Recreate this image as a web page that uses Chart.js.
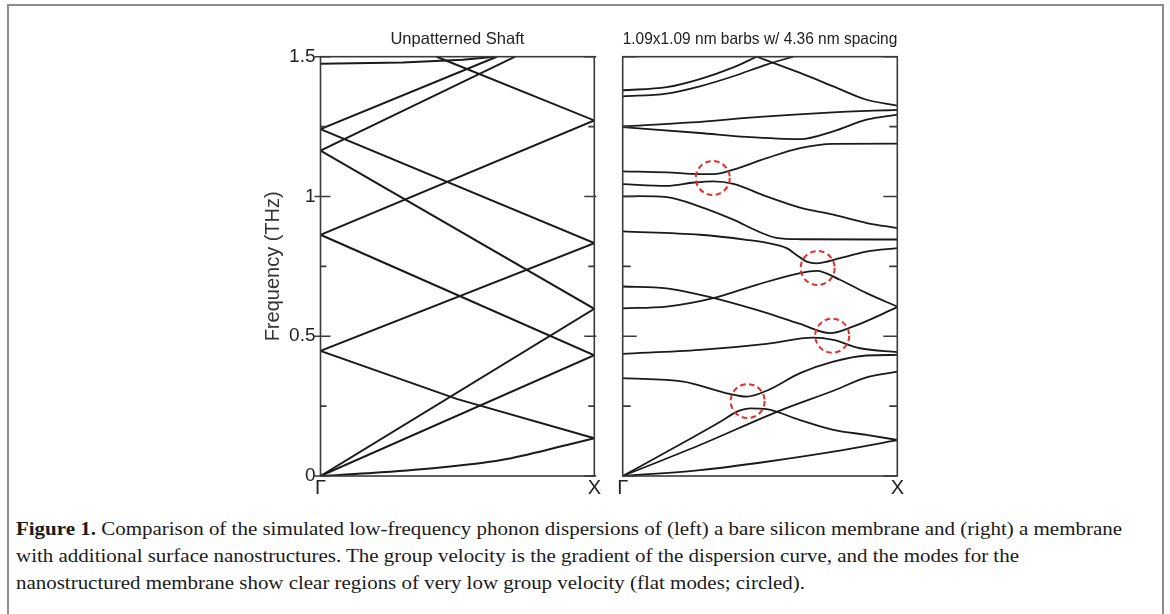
<!DOCTYPE html>
<html><head><meta charset="utf-8">
<script src="https://cdn.jsdelivr.net/npm/chart.js@4.4.1/dist/chart.umd.min.js"></script>
<style>
html,body{margin:0;padding:0;background:#fff;width:1170px;height:614px;overflow:hidden;}
#frame{position:absolute;left:7px;top:4px;width:1157px;height:700px;border:2px solid #8c8c8c;box-sizing:border-box;}
canvas{position:absolute;}
#cl{left:250px;top:20px;}
#cr{left:600px;top:20px;}
.cap{position:absolute;left:16px;white-space:nowrap;font-family:"Liberation Serif","Times New Roman",serif;font-size:19.5px;color:#1a1a1a;transform-origin:0 50%;line-height:24px;}
</style></head><body>
<div id="frame"></div>
<canvas id="cl" width="360" height="492"></canvas>
<canvas id="cr" width="320" height="492"></canvas>
<div class="cap" id="cap1" style="top:517px"><b>Figure 1.</b> Comparison of the simulated low-frequency phonon dispersions of (left) a bare silicon membrane and (right) a membrane</div>
<div class="cap" id="cap2" style="top:544px">with additional surface nanostructures. The group velocity is the gradient of the dispersion curve, and the modes for the</div>
<div class="cap" id="cap3" style="top:571px">nanostructured membrane show clear regions of very low group velocity (flat modes; circled).</div>
<script>
// ---------- DATA ----------
const leftTitle = 'Unpatterned Shaft';
const rightTitle = '1.09x1.09 nm barbs w/ 4.36 nm spacing';
const yAxisTitle = 'Frequency (THz)';
const xTickPos = [0, 1];
const xTickLabels = ['\u0393', 'X'];
const yTickValues = [0, 0.5, 1, 1.5];
const yTickLabels = ['0', '0.5', '1', '1.5'];
const yMinorTicks = [0.25, 0.75, 1.25];

// Left panel: unpatterned shaft bands, [k (Γ=0 .. X=1), frequency THz]
const leftFlexural = [[0,0],[0.17,0.0095],[0.41,0.0275],[0.66,0.057],[0.9,0.111],[1,0.135]];
const leftBandA = [[0,0],[1,0.432],[0,0.863],[1,1.272],[0.424,1.5]];
const leftBandB = [[0,0],[1,0.598],[0,1.164],[0.711,1.5]];
const leftBandC = [[1,0.135],[0.5,0.275],[0,0.4475],[1,0.833],[0,1.241],[0.644,1.5]];
const leftBandTop = [[0,1.475],[0.3,1.479],[0.52,1.489],[0.637,1.5]];

// Right panel: nanostructured membrane bands
const rBandA = [[0,1.380],[0.16,1.391],[0.281,1.420],[0.403,1.462],[0.488,1.5]];
const rBandB = [[0,1.358],[0.16,1.368],[0.281,1.394],[0.403,1.43],[0.524,1.472],[0.621,1.5]];
const rBandC = [[0.488,1.5],[0.646,1.442],[0.767,1.394],[0.888,1.346],[1,1.325]];
const rBandD = [[0,1.251],[0.25,1.265],[0.5,1.285],[0.75,1.300],[1,1.310]];
const rBandE = [[0,1.248],[0.281,1.227],[0.45,1.213],[0.646,1.205],[0.767,1.233],[0.888,1.275],[1,1.293]];
const rBandG = [[0,1.090],[0.16,1.086],[0.281,1.080],[0.33,1.080],[0.403,1.096],[0.524,1.137],[0.646,1.173],[0.767,1.188],[1,1.189]];
const rBandH = [[0,1.044],[0.16,1.038],[0.26,1.050],[0.33,1.054],[0.403,1.045],[0.524,1.000],[0.646,0.960],[0.767,0.935],[0.889,0.905],[1,0.887]];
const rBandI = [[0,1.000],[0.06,1.001],[0.16,0.998],[0.281,0.964],[0.403,0.917],[0.5,0.872],[0.56,0.852],[0.646,0.847],[1,0.846]];
const rBandJ = [[0,0.875],[0.281,0.863],[0.45,0.845],[0.53,0.833],[0.597,0.815],[0.633,0.791],[0.67,0.767],[0.706,0.761],[0.791,0.779],[0.888,0.803],[1,0.815]];
const rBandL = [[0,0.600],[0.16,0.606],[0.33,0.636],[0.488,0.684],[0.646,0.726],[0.706,0.734],[0.791,0.702],[0.888,0.654],[1,0.606]];
const rBandM = [[0,0.678],[0.16,0.671],[0.318,0.640],[0.488,0.594],[0.646,0.544],[0.755,0.511],[0.84,0.535],[1,0.604]];
const rBandN = [[0,0.437],[0.281,0.451],[0.524,0.473],[0.694,0.495],[0.767,0.487],[0.864,0.457],[1,0.443]];
const rBandO = [[0,0.350],[0.221,0.338],[0.379,0.296],[0.452,0.284],[0.524,0.305],[0.646,0.368],[0.767,0.409],[0.888,0.431],[1,0.433]];
const rBandP = [[0,0],[0.2,0.108],[0.36,0.197],[0.42,0.232],[0.464,0.242],[0.524,0.239],[0.646,0.200],[0.767,0.165],[0.888,0.147],[1,0.129]];
const rBandQ = [[0,0],[0.281,0.111],[0.573,0.234],[0.767,0.305],[0.888,0.353],[1,0.373]];
const rBandR = [[0,0],[0.281,0.021],[0.524,0.051],[0.767,0.087],[1,0.128]];

// Circled flat-mode regions (k, frequency)
const circleK = [0.328, 0.710, 0.763, 0.455];
const circleF = [1.066, 0.744, 0.502, 0.268];

// ---------- CHART ----------
const SANS = '"Liberation Sans", Arial, Helvetica, sans-serif';
const LINE = '#1a1a1a';
const toPts = arr => arr.map(p => ({x: p[0], y: p[1]}));

const framePlugin = {
  id: 'frameTicks',
  afterDatasetsDraw(chart, args, o) {
    const {ctx, chartArea: a, scales: {y}} = chart;
    ctx.save();
    ctx.strokeStyle = '#3a3a3a';
    ctx.lineWidth = 1.6;
    ctx.beginPath();
    yTickValues.forEach(v => {
      const py = y.getPixelForValue(v);
      ctx.moveTo(a.left - o.out, py); ctx.lineTo(a.left + o.major, py);
      ctx.moveTo(a.right - o.major, py); ctx.lineTo(a.right + o.outR, py);
    });
    yMinorTicks.forEach(v => {
      const py = y.getPixelForValue(v);
      ctx.moveTo(a.left, py); ctx.lineTo(a.left + o.minor, py);
      ctx.moveTo(a.right - o.minor, py); ctx.lineTo(a.right, py);
    });
    ctx.stroke();
    ctx.strokeRect(a.left, a.top, a.right - a.left, a.bottom - a.top);
    ctx.restore();
  }
};

const circlePlugin = {
  id: 'flatCircles',
  afterDatasetsDraw(chart, args, o) {
    if (!o.show) return;
    const {ctx, scales: {x, y}} = chart;
    ctx.save();
    ctx.strokeStyle = '#e0302a';
    ctx.lineWidth = 2;
    ctx.setLineDash([5.5, 3.5]);
    circleK.forEach((k, i) => {
      ctx.beginPath();
      ctx.arc(x.getPixelForValue(k), y.getPixelForValue(circleF[i]), o.r, 0, Math.PI * 2);
      ctx.stroke();
    });
    ctx.restore();
  }
};

function makeDatasets(list, smooth, width) {
  return list.map(arr => ({
    data: toPts(arr),
    showLine: true,
    borderColor: LINE,
    borderWidth: width,
    pointRadius: 0,
    tension: 0,
    cubicInterpolationMode: smooth ? 'monotone' : 'default',
    fill: false
  }));
}

function makeOptions(title, showY, padLeft, padRight, yWidth) {
  return {
    responsive: false,
    animation: false,
    devicePixelRatio: 1,
    layout: {padding: {left: padLeft, right: padRight, top: 0, bottom: 12}},
    plugins: {
      legend: {display: false},
      tooltip: {enabled: false},
      title: {
        display: true, text: title, fullSize: false,
        font: {family: SANS, size: 16.5, weight: 'normal'}, color: '#222',
        padding: {top: 10, bottom: 6.9}
      },
      frameTicks: showY ? {major: 10, minor: 6, out: 6, outR: 2} : {major: 14, minor: 8, out: 0, outR: 0},
      flatCircles: {show: !showY, r: 17}
    },
    scales: {
      x: {
        type: 'linear', min: 0, max: 1,
        grid: {display: false, drawTicks: false}, border: {display: false},
        afterBuildTicks: s => { s.ticks = xTickPos.map(v => ({value: v})); },
        afterFit: s => { s.height = 24; },
        ticks: {
          autoSkip: false, maxRotation: 0, padding: 0, color: '#222',
          font: {family: SANS, size: 20},
          callback: (v, i) => xTickLabels[i]
        }
      },
      y: {
        type: 'linear', min: 0, max: 1.5, display: showY,
        grid: {display: false, drawTicks: false}, border: {display: false},
        afterBuildTicks: s => { s.ticks = yTickValues.map(v => ({value: v})); },
        afterFit: s => { if (showY) s.width = yWidth; },
        ticks: {
          padding: 5, color: '#222', font: {family: SANS, size: 19},
          callback: (v, i) => yTickLabels[i]
        },
        title: {
          display: showY, text: yAxisTitle, color: '#333',
          font: {family: SANS, size: 20}, padding: {top: 11, bottom: 0}
        }
      }
    }
  };
}

new Chart(document.getElementById('cl'), {
  type: 'scatter',
  data: {datasets: makeDatasets([leftFlexural], true, 2).concat(makeDatasets([leftBandA, leftBandB, leftBandC, leftBandTop], false, 2))},
  options: makeOptions(leftTitle, true, 0, 15.7, 70.5),
  plugins: [framePlugin, circlePlugin]
});

new Chart(document.getElementById('cr'), {
  type: 'scatter',
  data: {datasets: makeDatasets([rBandA, rBandB, rBandC, rBandD, rBandE, rBandG, rBandH, rBandI, rBandJ, rBandL, rBandM, rBandN, rBandO, rBandP, rBandQ, rBandR], true, 1.8)},
  options: makeOptions(rightTitle, false, 22.7, 22.7, 0),
  plugins: [framePlugin, circlePlugin]
});

// fit caption lines to the reference widths
const capWidths = {cap1: 1106, cap2: 1003, cap3: 789};
Object.keys(capWidths).forEach(id => {
  const el = document.getElementById(id);
  const w = el.getBoundingClientRect().width;
  el.style.transform = 'scaleX(' + (capWidths[id] / w) + ')';
});
</script>
</body></html>
